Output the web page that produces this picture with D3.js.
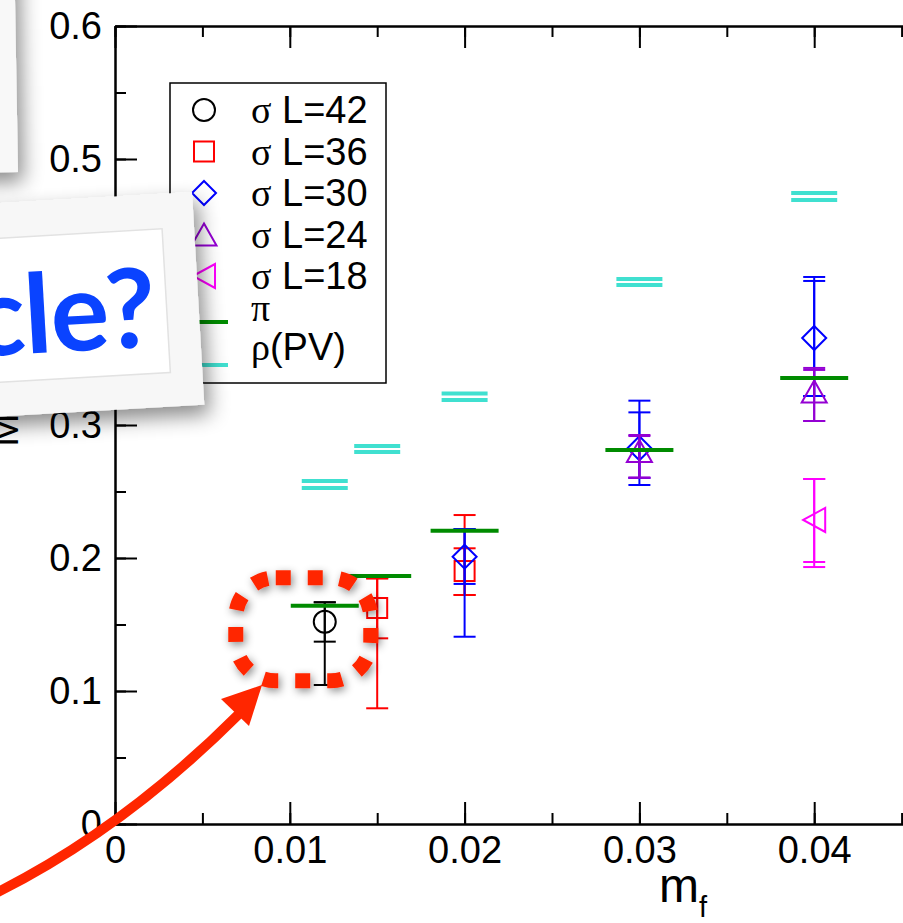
<!DOCTYPE html>
<html>
<head>
<meta charset="utf-8">
<script src="https://cdn.jsdelivr.net/npm/d3@7.9.0/dist/d3.min.js"></script>
<style>
  html, body { margin: 0; padding: 0; background: #fff; }
  svg { display: block; font-family: "Liberation Sans", Arial, Helvetica, sans-serif; }
</style>
</head>
<body>
<svg id="chart" width="903" height="923"></svg>
<script>
// quark mass values on the x axis
const mfValues = [0.012, 0.015, 0.02, 0.03, 0.04];

// pion mass and the two rho(PV) lines at each mf
const piMass = [0.1641, 0.1865, 0.2205, 0.2812, 0.3353];
const rhoUpper = [0.2579, 0.2842, 0.3237, 0.4098, 0.4744];
const rhoLower = [0.2526, 0.2797, 0.3188, 0.4053, 0.4692];

// sigma mass per volume: [mf, mass, innerLo, innerHi, outerLo, outerHi]
const sigmaL42 = [[0.012, 0.1521, 0.1371, 0.1667, 0.1045, 0.1667]];
const sigmaL36 = [[0.015, 0.1624, 0.1396, 0.1847, 0.0870, 0.1847],
                  [0.02, 0.1902, 0.1722, 0.2073, 0.1722, 0.2323]];
const sigmaL30 = [[0.02, 0.2010, 0.1805, 0.2218, 0.1408, 0.2218],
                  [0.03, 0.2825, 0.2602, 0.3095, 0.2549, 0.3183],
                  [0.04, 0.3654, 0.3218, 0.4083, 0.3218, 0.4113]];
const sigmaL24 = [[0.03, 0.2805, 0.2604, 0.2917, 0.2604, 0.2925],
                  [0.04, 0.3252, 0.3030, 0.3414, 0.3030, 0.3429]];
const sigmaL18 = [[0.04, 0.2286, 0.1970, 0.2594, 0.1932, 0.2594]];

const legendLabels = ['L=42', 'L=36', 'L=30', 'L=24', 'L=18'];
const xTicks = [0, 0.01, 0.02, 0.03, 0.04];
const yTicks = [0, 0.1, 0.2, 0.3, 0.4, 0.5, 0.6];

const svg = d3.select('#chart');
const defs = svg.append('defs');

defs.append('filter').attr('id', 'cardShadow')
  .attr('x', '-30%').attr('y', '-30%').attr('width', '160%').attr('height', '170%')
  .append('feDropShadow')
  .attr('dx', 5).attr('dy', 10).attr('stdDeviation', 10)
  .attr('flood-color', '#000').attr('flood-opacity', 0.45);

defs.append('filter').attr('id', 'dotShadow')
  .attr('x', '-30%').attr('y', '-30%').attr('width', '160%').attr('height', '160%')
  .append('feDropShadow')
  .attr('dx', 2).attr('dy', 3).attr('stdDeviation', 4)
  .attr('flood-color', '#000').attr('flood-opacity', 0.45);

// scales
const x = d3.scaleLinear().domain([0, 0.05]).range([115, 989]);
const y = d3.scaleLinear().domain([0, 0.6]).range([824, 26]);

const plot = svg.append('g');

// axes, ticks pointing inward
const minorX = d3.range(0, 0.0501, 0.005);
const minorY = d3.range(0, 0.601, 0.05);

function styleAxis(g) {
  g.attr('font-family', null).attr('font-size', null);
  g.selectAll('path, line').attr('stroke', '#000').attr('stroke-width', 2);
  g.selectAll('text').attr('font-size', 38).attr('fill', '#000');
}

plot.append('g').attr('transform', `translate(0,${y(0)})`)
  .call(d3.axisBottom(x).tickValues(minorX).tickSize(-11).tickSizeOuter(0).tickFormat(''))
  .call(styleAxis);
plot.append('g').attr('transform', `translate(0,${y(0)})`)
  .call(d3.axisBottom(x).tickValues(xTicks.concat([0.05])).tickSize(-22).tickSizeOuter(0)
    .tickPadding(12).tickFormat(d => xTicks.includes(d) ? (d === 0 ? '0' : d3.format('.2f')(d)) : ''))
  .call(styleAxis);

plot.append('g').attr('transform', `translate(0,${y(0.6)})`)
  .call(d3.axisTop(x).tickValues(minorX).tickSize(-11).tickSizeOuter(0).tickFormat(''))
  .call(styleAxis);
plot.append('g').attr('transform', `translate(0,${y(0.6)})`)
  .call(d3.axisTop(x).tickValues(xTicks.concat([0.05])).tickSize(-22).tickSizeOuter(0).tickFormat(''))
  .call(styleAxis);

plot.append('g').attr('transform', `translate(${x(0)},0)`)
  .call(d3.axisLeft(y).tickValues(minorY).tickSize(-11).tickSizeOuter(0).tickFormat(''))
  .call(styleAxis);
plot.append('g').attr('transform', `translate(${x(0)},0)`)
  .call(d3.axisLeft(y).tickValues(yTicks).tickSize(-22).tickSizeOuter(0)
    .tickPadding(13).tickFormat(d => d === 0 ? '0' : d3.format('.1f')(d)))
  .call(styleAxis);

// axis titles
const xTitle = plot.append('text').attr('x', 659).attr('y', 902)
  .attr('font-size', 48).attr('fill', '#000');
xTitle.append('tspan').text('m');
xTitle.append('tspan').attr('font-size', 29).attr('dy', 15).text('f');

plot.append('text')
  .attr('transform', 'translate(18,430) rotate(-90)')
  .attr('text-anchor', 'middle')
  .attr('font-size', 40).attr('fill', '#000')
  .text('M');

// rho(PV): two short turquoise lines per point
const RHO_HALF = 23;
const PI_HALF = 34;
const CAP = 11;
const rhoColor = '#40e0d0';
const piColor = '#008b00';

mfValues.forEach((mf, i) => {
  [rhoUpper[i], rhoLower[i]].forEach(v => {
    plot.append('line')
      .attr('x1', x(mf) - RHO_HALF).attr('x2', x(mf) + RHO_HALF)
      .attr('y1', y(v)).attr('y2', y(v))
      .attr('stroke', rhoColor).attr('stroke-width', 4);
  });
});

// sigma series
const sigmaSets = [
  { rows: sigmaL42, color: '#000000', shape: 'circle' },
  { rows: sigmaL36, color: '#ff0000', shape: 'square' },
  { rows: sigmaL30, color: '#0000ff', shape: 'diamond' },
  { rows: sigmaL24, color: '#9400d3', shape: 'triUp' },
  { rows: sigmaL18, color: '#ff00ff', shape: 'triLeft' }
];

function drawSymbol(g, shape, cx, cy, color) {
  const s = g.append('g').attr('transform', `translate(${cx},${cy})`);
  const common = el => el.attr('fill', 'none').attr('stroke', color).attr('stroke-width', 2);
  if (shape === 'circle') common(s.append('circle').attr('r', 11));
  else if (shape === 'square') common(s.append('rect').attr('x', -10).attr('y', -10).attr('width', 20).attr('height', 20));
  else if (shape === 'diamond') common(s.append('path').attr('d', 'M0,-12L12,0L0,12L-12,0Z'));
  else if (shape === 'triUp') common(s.append('path').attr('d', 'M0,-11L12.5,11L-12.5,11Z'));
  else if (shape === 'triLeft') common(s.append('path').attr('d', 'M-11,0L11,-12L11,12Z'));
}

function errorBar(g, mf, lo, hi, color) {
  const cx = x(mf);
  g.append('line').attr('x1', cx).attr('x2', cx).attr('y1', y(lo)).attr('y2', y(hi))
    .attr('stroke', color).attr('stroke-width', 2);
  [lo, hi].forEach(v => {
    g.append('line').attr('x1', cx - CAP).attr('x2', cx + CAP).attr('y1', y(v)).attr('y2', y(v))
      .attr('stroke', color).attr('stroke-width', 2);
  });
}

sigmaSets.forEach(set => {
  const g = plot.append('g');
  set.rows.forEach(([mf, m, lo1, hi1, lo2, hi2]) => {
    errorBar(g, mf, lo2, hi2, set.color);
    errorBar(g, mf, lo1, hi1, set.color);
    drawSymbol(g, set.shape, x(mf), y(m), set.color);
  });
});

// pion lines
mfValues.forEach((mf, i) => {
  plot.append('line')
    .attr('x1', x(mf) - PI_HALF).attr('x2', x(mf) + PI_HALF)
    .attr('y1', y(piMass[i])).attr('y2', y(piMass[i]))
    .attr('stroke', piColor).attr('stroke-width', 4);
});

// legend
const legend = plot.append('g');
legend.append('rect').attr('x', 170).attr('y', 83).attr('width', 216).attr('height', 300)
  .attr('fill', '#fff').attr('stroke', '#000').attr('stroke-width', 1.5);

const rowBase = [123, 164.5, 206, 247.5, 289, 321, 360];
sigmaSets.forEach((set, i) => {
  drawSymbol(legend, set.shape, 204, rowBase[i] - 13, set.color);
  const t = legend.append('text').attr('x', 251).attr('y', rowBase[i]).attr('font-size', 38);
  t.append('tspan').attr('font-family', '"Liberation Serif", serif').text('σ');
  t.append('tspan').text(' ' + legendLabels[i]);
});
legend.append('line').attr('x1', 199).attr('x2', 228).attr('y1', 322).attr('y2', 322)
  .attr('stroke', piColor).attr('stroke-width', 4);
legend.append('text').attr('x', 251).attr('y', rowBase[5]).attr('font-size', 38)
  .attr('font-family', '"Liberation Serif", serif').text('π');
legend.append('line').attr('x1', 199).attr('x2', 228).attr('y1', 365).attr('y2', 365)
  .attr('stroke', rhoColor).attr('stroke-width', 4);
const rhoText = legend.append('text').attr('x', 251).attr('y', rowBase[6]).attr('font-size', 38);
rhoText.append('tspan').attr('font-family', '"Liberation Serif", serif').text('ρ');
rhoText.append('tspan').text('(PV)');

// slide overlay: back card (top left)
const back = svg.append('g').attr('transform', 'translate(18,172) rotate(-1)');
back.append('rect').attr('x', -400).attr('y', -400).attr('width', 400).attr('height', 400)
  .attr('fill', '#f8f8f8').attr('filter', 'url(#cardShadow)');

// front card with the question text
const front = svg.append('g').attr('transform', 'translate(192,192) rotate(-3.3)');
front.append('rect').attr('x', -420).attr('y', 0).attr('width', 420).attr('height', 213)
  .attr('fill', '#f7f7f7').attr('filter', 'url(#cardShadow)');
front.append('rect').attr('x', -420).attr('y', 35).attr('width', 388).attr('height', 144)
  .attr('fill', '#fff').attr('stroke', '#e2e2e2').attr('stroke-width', 1.5);
front.append('text').attr('x', -44).attr('y', 152)
  .attr('text-anchor', 'end')
  .style('font-family', 'Lato, "Open Sans", sans-serif').style('font-weight', 700)
  .style('font-size', '110px').style('letter-spacing', '-1px')
  .attr('fill', '#0a43ff').text('cle?');

// red dotted highlight round the L=42 point
const hx = x(sigmaL42[0][0]);
const hy = y(sigmaL42[0][1]);
svg.append('rect')
  .attr('x', hx - 89).attr('y', hy - 44).attr('width', 135).attr('height', 103)
  .attr('rx', 40).attr('ry', 40)
  .attr('fill', 'none').attr('stroke', '#ff2600').attr('stroke-width', 15)
  .attr('stroke-dasharray', '15 17')
  .attr('filter', 'url(#dotShadow)');

// red arrow pointing at it
const arrow = svg.append('g');
arrow.append('path').attr('d', 'M-4,893 Q124,829 240,713')
  .attr('fill', 'none').attr('stroke', '#ff2600').attr('stroke-width', 10);
arrow.append('path').attr('d', 'M262,685 L249,726 L221,699 Z').attr('fill', '#ff2600');
</script>
</body>
</html>
